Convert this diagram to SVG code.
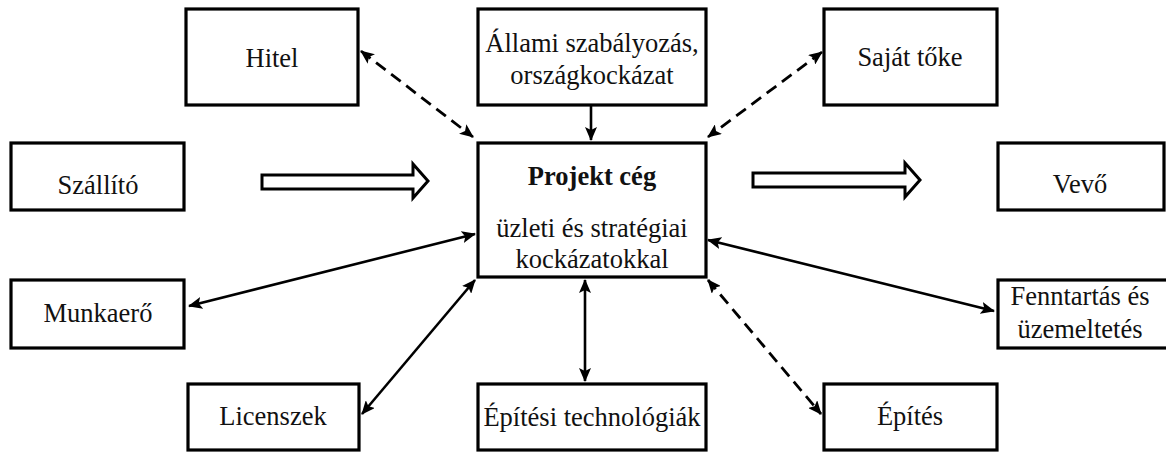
<svg xmlns="http://www.w3.org/2000/svg" width="1166" height="452" viewBox="0 0 1166 452">
<style>
.box{fill:#fff;stroke:#000;stroke-width:3.2}
.t{font-family:"Liberation Serif","DejaVu Serif",serif;font-size:26.5px;fill:#111;text-anchor:middle}
.b{font-weight:bold}
.ln{stroke:#000;stroke-width:2.6;fill:none}
.d{stroke-dasharray:12 7;stroke-width:2.8}
.hollow{fill:#fff;stroke:#000;stroke-width:3;stroke-linejoin:miter}
</style>
<defs>
<marker id="ah" viewBox="0 0 14 12" refX="13" refY="6" markerWidth="14" markerHeight="12" markerUnits="userSpaceOnUse" orient="auto-start-reverse">
<path d="M0,0 L14,6 L0,12 L3,6 Z" fill="#000"/>
</marker>
</defs>
<rect width="1166" height="452" fill="#fff"/>
<g id="connectors">
<line class="ln d" x1="361" y1="51" x2="473" y2="137" marker-start="url(#ah)" marker-end="url(#ah)"/>
<line class="ln" x1="591" y1="105" x2="591" y2="140" marker-end="url(#ah)"/>
<line class="ln d" x1="822" y1="52" x2="708" y2="137" marker-start="url(#ah)" marker-end="url(#ah)"/>
<line class="ln" x1="189" y1="306" x2="475" y2="234" marker-start="url(#ah)" marker-end="url(#ah)"/>
<line class="ln" x1="362" y1="414" x2="475" y2="280" marker-start="url(#ah)" marker-end="url(#ah)"/>
<line class="ln" x1="585" y1="280" x2="585" y2="381" marker-start="url(#ah)" marker-end="url(#ah)"/>
<line class="ln" x1="708" y1="240" x2="994" y2="311" marker-start="url(#ah)" marker-end="url(#ah)"/>
<line class="ln d" x1="708" y1="280" x2="821" y2="414" marker-start="url(#ah)" marker-end="url(#ah)"/>
<path class="hollow" d="M262,175 L413,175 L413,164 L428,181 L413,198 L413,189 L262,189 Z"/>
<path class="hollow" d="M753,173 L905,173 L905,163 L920,180 L905,197 L905,187 L753,187 Z"/>
</g>
<g id="hitel"><rect class="box" x="186" y="9" width="172" height="96"/><text class="t" x="272" y="67">Hitel</text></g>
<g id="allami"><rect class="box" x="478" y="9" width="228" height="96"/><text class="t" x="592" y="52">Állami szabályozás,</text><text class="t" x="592" y="84">országkockázat</text></g>
<g id="sajat"><rect class="box" x="824" y="9" width="173" height="96"/><text class="t" x="910" y="66">Saját tőke</text></g>
<g id="szallito"><rect class="box" x="11" y="143" width="173" height="67"/><text class="t" x="98" y="194">Szállító</text></g>
<g id="projekt"><rect class="box" x="478" y="143" width="228" height="134"/><text class="t b" x="592" y="185">Projekt cég</text><text class="t" x="592" y="237">üzleti és stratégiai</text><text class="t" x="592" y="268">kockázatokkal</text></g>
<g id="vevo"><rect class="box" x="998" y="143" width="166" height="67"/><text class="t" x="1080" y="193">Vevő</text></g>
<g id="munkaero"><rect class="box" x="11" y="280" width="173" height="68"/><text class="t" x="98" y="322">Munkaerő</text></g>
<g id="fenntartas"><rect class="box" x="998" y="280" width="170" height="68"/><text class="t" x="1080" y="305">Fenntartás és</text><text class="t" x="1080" y="338">üzemeltetés</text></g>
<g id="licenszek"><rect class="box" x="188" y="384" width="171" height="66"/><text class="t" x="273" y="425">Licenszek</text></g>
<g id="epitesi"><rect class="box" x="478" y="384" width="228" height="66"/><text class="t" x="592" y="426">Építési technológiák</text></g>
<g id="epites"><rect class="box" x="824" y="384" width="173" height="66"/><text class="t" x="910" y="425">Építés</text></g>
</svg>
